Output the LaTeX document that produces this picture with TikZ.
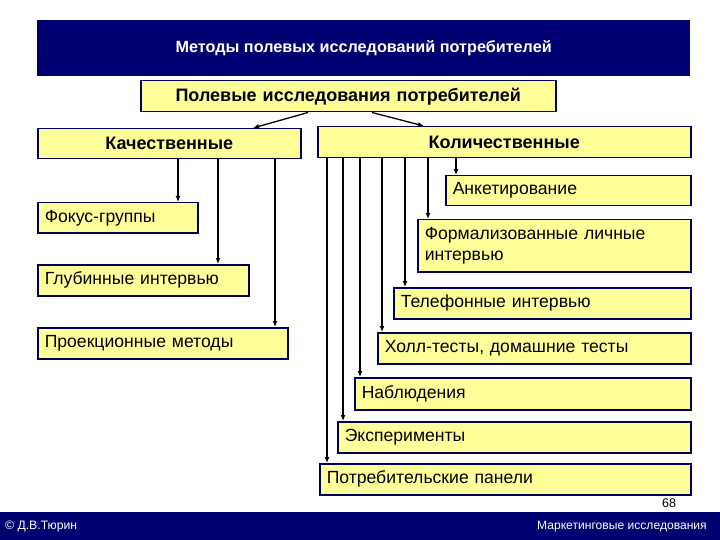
\documentclass[tikz,border=0pt]{standalone}
\usepackage{fontspec}
\setmainfont{Liberation Sans}
\usetikzlibrary{arrows.meta}
\definecolor{navy}{RGB}{0,0,112}
\definecolor{boxfill}{RGB}{255,255,153}
\definecolor{boxline}{RGB}{0,0,90}
\tikzset{
  box/.style={draw=boxline, fill=boxfill, line width=1.5pt, anchor=north west,
    inner xsep=7pt, inner ysep=0pt, align=left, font=\fontsize{17.6}{21}\selectfont},
  cbox/.style={box, align=center, font=\fontsize{18}{20}\selectfont\bfseries},
  arr/.style={line width=1.3pt, -{Latex[length=6pt,width=5pt]}},
  arrthick/.style={line width=1.8pt, -{Latex[length=6pt,width=5pt]}}
}
\begin{document}
\begin{tikzpicture}[x=1pt,y=-1pt]
\useasboundingbox (0,0) rectangle (720,540);
\fill[white] (0,0) rectangle (720,540);
% header
\node[fill=navy, minimum width=653pt, minimum height=56pt, anchor=north west, inner sep=0pt,
  text=white, font=\fontsize{16.2}{18}\selectfont\bfseries] (hdr) at (37,20) {Методы полевых исследований потребителей};
% boxes
\node[cbox, text width=401pt, minimum height=31pt] (top) at (140,80) {Полевые исследования потребителей};
\node[cbox, text width=249pt, minimum height=30pt] (kach) at (37,128) {Качественные};
\node[cbox, text width=359pt, minimum height=31pt] (kol) at (317,126) {Количественные};
\node[box, text width=231pt, minimum height=30pt] (ank) at (445,175) {Анкетирование};
\node[box, text width=146pt, minimum height=30pt] (fok) at (37,202) {Фокус-группы};
\node[box, text width=259pt, minimum height=52pt] (form) at (417,219) {Формализованные личные\\интервью};
\node[box, text width=197pt, minimum height=31pt] (glub) at (37,264) {Глубинные интервью};
\node[box, text width=283pt, minimum height=31pt] (tel) at (393,287) {Телефонные интервью};
\node[box, text width=236pt, minimum height=31pt] (proj) at (37,327) {Проекционные методы};
\node[box, text width=299pt, minimum height=31pt] (holl) at (377,332) {Холл-тесты, домашние тесты};
\node[box, text width=322pt, minimum height=32pt] (nab) at (354,377) {Наблюдения};
\node[box, text width=339pt, minimum height=31pt] (exp) at (337,421) {Эксперименты};
\node[box, text width=357pt, minimum height=31pt] (potr) at (319,463) {Потребительские панели};
% arrows from top
\coordinate (t1) at (308,0); \coordinate (t2) at (253,0);
\coordinate (t3) at (372,0); \coordinate (t4) at (424,0);
\draw[arr] (top.south -| t1) -- (kach.north -| t2);
\draw[arr] (top.south -| t3) -- (kol.north -| t4);
% qualitative
\coordinate (q1) at (178,0); \coordinate (q2) at (218,0); \coordinate (q3) at (275,0);
\draw[arr] (kach.south -| q1) -- (fok.north -| q1);
\draw[arr] (kach.south -| q2) -- (glub.north -| q2);
\draw[arr] (kach.south -| q3) -- (proj.north -| q3);
% quantitative
\coordinate (k1) at (327,0); \coordinate (k2) at (343,0); \coordinate (k3) at (360,0);
\coordinate (k4) at (382,0); \coordinate (k5) at (405,0); \coordinate (k6) at (428,0);
\coordinate (k7) at (456,0);
\draw[arrthick] (kol.south -| k1) -- (potr.north -| k1);
\draw[arrthick] (kol.south -| k2) -- (exp.north -| k2);
\draw[arrthick] (kol.south -| k3) -- (nab.north -| k3);
\draw[arrthick] (kol.south -| k4) -- (holl.north -| k4);
\draw[arr] (kol.south -| k5) -- (tel.north -| k5);
\draw[arrthick] (kol.south -| k6) -- (form.north -| k6);
\draw[arr] (kol.south -| k7) -- (ank.north -| k7);
% page number
\node[font=\fontsize{12.5}{14}\selectfont] (num) at (669,503) {68};
% footer
\node[fill=navy, minimum width=720pt, minimum height=28pt, anchor=north west, inner sep=0pt] (foot) at (0,512) {};
\node[anchor=west, text=white, font=\fontsize{12.2}{14}\selectfont, inner sep=0pt] (copy) at (5,527) {© Д.В.Тюрин};
\node[anchor=east, text=white, font=\fontsize{12.1}{14}\selectfont, inner sep=0pt] (mk) at (707,527) {Маркетинговые исследования};
\end{tikzpicture}
\end{document}
